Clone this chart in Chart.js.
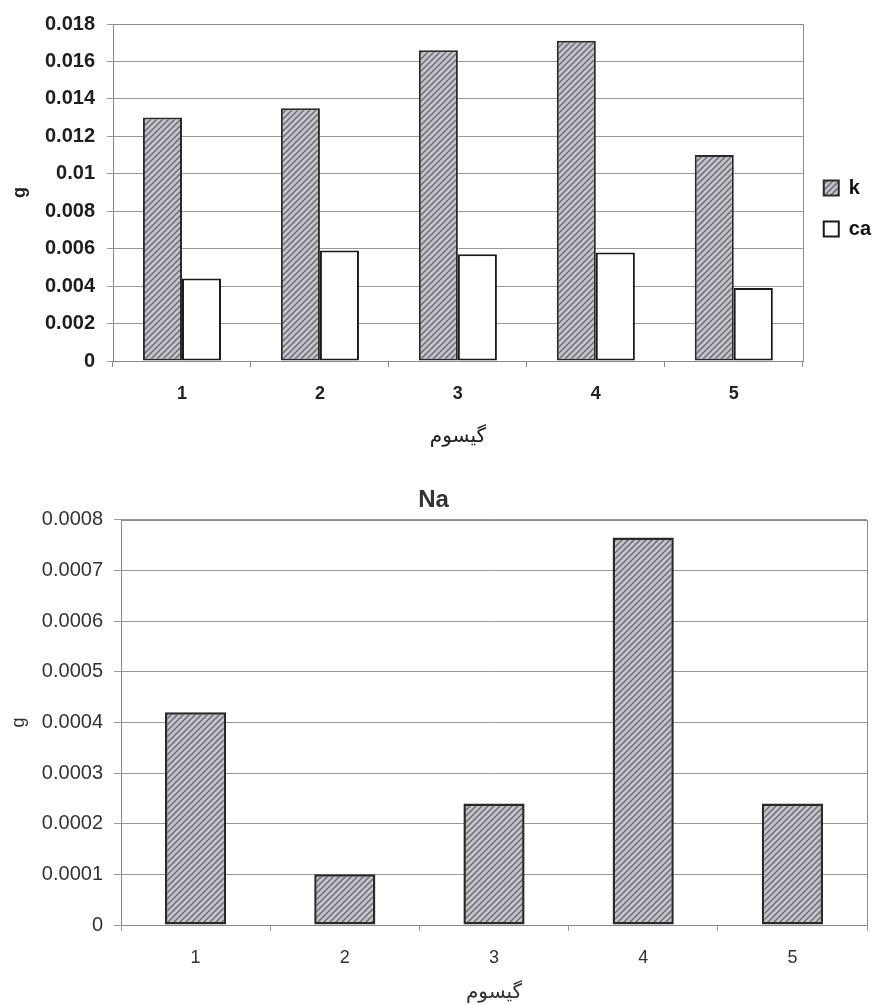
<!DOCTYPE html>
<html>
<head>
<meta charset="utf-8">
<script src="https://cdn.jsdelivr.net/npm/chart.js@4/dist/chart.umd.min.js"></script>
<style>
  html, body { margin: 0; padding: 0; background: #fff; overflow: hidden; width: 875px; height: 1005px; }
  #topBox { position: absolute; left: 0; top: 0; width: 881px; height: 460px; }
  #botBox { position: absolute; left: 0; top: 460px; width: 900px; height: 545px; }
</style>
</head>
<body>
<div id="topBox"><canvas id="topChart"></canvas></div>
<div id="botBox"><canvas id="botChart"></canvas></div>
<script>
// ---- data ----
const categories = ['1', '2', '3', '4', '5'];
const kValues  = [0.013, 0.0135, 0.0166, 0.0171, 0.011];
const caValues = [0.0044, 0.0059, 0.0057, 0.0058, 0.0039];
const naValues = [0.00042, 0.0001, 0.00024, 0.000765, 0.00024];
const topYRange = [0, 0.018, 0.002];
const botYRange = [0, 0.0008, 0.0001];
const seriesNames = ['k', 'ca'];
const naTitle = 'Na';
const xTitle = 'گیسوم';
const yTitle = 'g';

// ---- hatch pattern ----
function makeHatch() {
  const s = 6;
  const c = document.createElement('canvas');
  c.width = s; c.height = s;
  const g = c.getContext('2d');
  g.fillStyle = '#c3c3cb';
  g.fillRect(0, 0, s, s);
  g.strokeStyle = '#68686e';
  g.lineWidth = 1.4;
  g.beginPath();
  g.moveTo(-1, s + 1); g.lineTo(s + 1, -1);
  g.moveTo(-1, 1); g.lineTo(1, -1);
  g.moveTo(s - 1, s + 1); g.lineTo(s + 1, s - 1);
  g.stroke();
  return g.createPattern(c, 'repeat');
}
const hatch = makeHatch();

const fmt = v => parseFloat(Number(v).toFixed(6)).toString();

const plotBorder = {
  id: 'plotBorder',
  beforeDatasetsDraw(chart) {
    const a = chart.chartArea, ctx = chart.ctx;
    ctx.save();
    ctx.strokeStyle = '#8a8a8a';
    ctx.lineWidth = 1;
    ctx.strokeRect(Math.round(a.left) + 0.5, Math.round(a.top) + 0.5, Math.round(a.right - a.left), Math.round(a.bottom - a.top));
    ctx.restore();
  }
};

Chart.defaults.font.family = 'Arial, "Liberation Sans", sans-serif';
Chart.defaults.color = '#222';

// ---- top chart ----
new Chart(document.getElementById('topChart'), {
  type: 'bar',
  data: {
    labels: categories,
    datasets: [
      { label: seriesNames[0], data: kValues, backgroundColor: hatch, borderColor: '#2a2a2a', borderWidth: 2, borderSkipped: false },
      { label: seriesNames[1], data: caValues, backgroundColor: '#ffffff', borderColor: '#1a1a1a', borderWidth: 2, borderSkipped: false }
    ]
  },
  options: {
    responsive: true,
    maintainAspectRatio: false,
    animation: false,
    layout: { padding: { top: 21, right: 0, bottom: 0, left: 0 } },
    datasets: { bar: { categoryPercentage: 0.566, barPercentage: 1.0 } },
    plugins: {
      legend: {
        position: 'right',
        fullSize: false,
        align: 'center',
        title: { display: true, text: ' ', font: { size: 10 }, padding: 10 },
        labels: {
          boxWidth: 15, boxHeight: 15, padding: 21,
          color: '#111',
          font: { size: 20, weight: 'bold' }
        }
      },
      tooltip: { enabled: false }
    },
    scales: {
      x: {
        afterFit(s) { s.height = 99; },
        grid: { offset: true, drawOnChartArea: false, drawTicks: true, tickLength: 6, color: '#888' },
        border: { display: true, color: '#888' },
        ticks: { padding: 16, color: '#222', font: { size: 18, weight: 'bold' } },
        title: { display: true, text: xTitle, color: '#222', font: { family: '"DejaVu Sans", sans-serif', size: 20 }, padding: { top: 0, bottom: 11 } }
      },
      y: {
        min: topYRange[0], max: topYRange[1],
        afterFit(s) { s.width = 113; },
        grid: { color: '#999', tickLength: 6, drawTicks: true },
        border: { display: true, color: '#888' },
        ticks: { stepSize: topYRange[2], padding: 12, color: '#1e1e1e', font: { size: 20, weight: 'bold' }, callback: v => fmt(v) },
        title: { display: true, text: yTitle, color: '#222', font: { size: 18, weight: 'bold' }, padding: { top: 9, bottom: 0 } }
      }
    }
  },
  plugins: [plotBorder]
});

// ---- bottom chart ----
new Chart(document.getElementById('botChart'), {
  type: 'bar',
  data: {
    labels: categories,
    datasets: [
      { label: naTitle, data: naValues, backgroundColor: hatch, borderColor: '#2a2a2a', borderWidth: 2.5, borderSkipped: false }
    ]
  },
  options: {
    responsive: true,
    maintainAspectRatio: false,
    animation: false,
    layout: { padding: { top: 0, right: 33, bottom: 0, left: 0 } },
    datasets: { bar: { categoryPercentage: 0.41, barPercentage: 1.0 } },
    plugins: {
      legend: { display: false },
      title: { display: true, text: naTitle, color: '#333', font: { size: 24, weight: 'bold' }, padding: { top: 26, bottom: 5 } },
      tooltip: { enabled: false }
    },
    scales: {
      x: {
        afterFit(s) { s.height = 80; },
        grid: { offset: true, drawOnChartArea: false, drawTicks: true, tickLength: 6, color: '#999' },
        border: { display: true, color: '#999' },
        ticks: { padding: 16, color: '#333', font: { size: 18 } },
        title: { display: true, text: xTitle, color: '#333', font: { family: '"DejaVu Sans", sans-serif', size: 20 }, padding: { top: 0, bottom: 0 } }
      },
      y: {
        min: botYRange[0], max: botYRange[1],
        afterFit(s) { s.width = 121; },
        grid: { color: '#999', tickLength: 7, drawTicks: true },
        border: { display: true, color: '#999' },
        ticks: { stepSize: botYRange[2], padding: 11, color: '#333', font: { size: 20 }, callback: v => fmt(v) },
        title: { display: true, text: yTitle, color: '#333', font: { size: 18 }, padding: { top: 8, bottom: 0 } }
      }
    }
  },
  plugins: [plotBorder]
});
</script>
</body>
</html>
